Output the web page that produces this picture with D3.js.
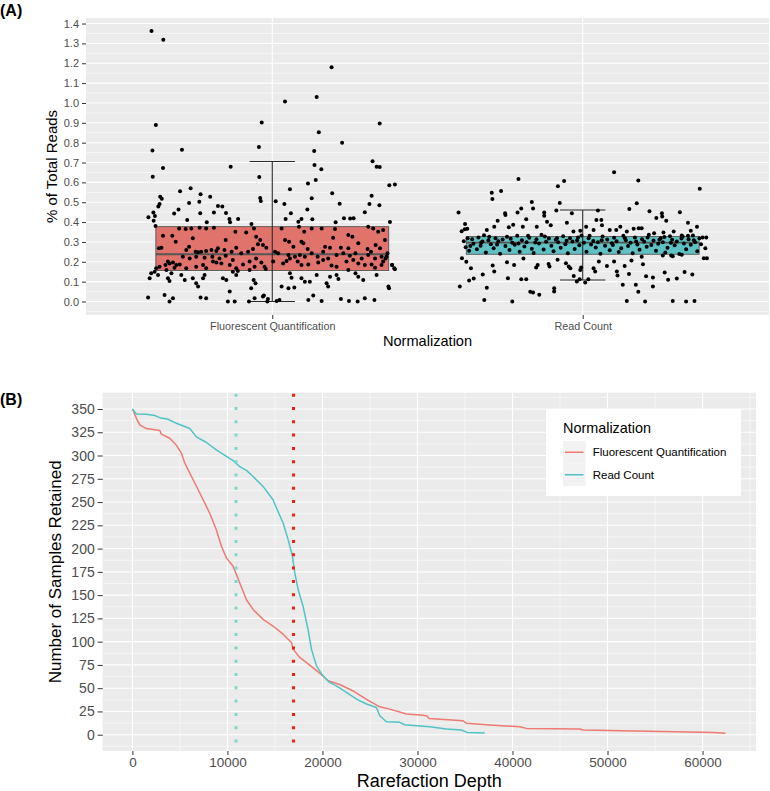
<!DOCTYPE html>
<html><head><meta charset="utf-8">
<script src="https://cdn.jsdelivr.net/npm/d3@7"></script>
<style>body{margin:0;background:#fff} text{font-family:"Liberation Sans",Arial,Helvetica,sans-serif}</style>
</head><body><svg id="c" width="770" height="791"></svg>
<script>
// ---------------- DATA ----------------
const categories = ["Fluorescent Quantification", "Read Count"];
const boxColors = ["#E0736B", "#5EC2C4"];
const boxQ1 = [0.156, 0.238];
const boxMedian = [0.238, 0.297];
const boxQ3 = [0.377, 0.327];
const whiskerLow = [0.0, 0.108];
const whiskerHigh = [0.705, 0.461];
const yTicksA = [0,0.1,0.2,0.3,0.4,0.5,0.6,0.7,0.8,0.9,1.0,1.1,1.2,1.3,1.4];

// [jitter (category units), % of total reads]
const fqPoints = [
[-0.389,1.363],[-0.351,1.318],[0.191,1.18],[0.041,1.008],[0.143,1.03],[-0.375,0.889],[-0.034,0.902],[0.346,0.897],
[0.15,0.852],[0.225,0.80],[-0.386,0.761],[-0.291,0.765],[-0.043,0.778],[0.135,0.758],[-0.385,0.629],[-0.352,0.672],
[-0.134,0.679],[-0.042,0.627],[0.136,0.687],[0.158,0.666],[0.323,0.706],[0.336,0.679],[0.346,0.677],[0.14,0.612],
[0.115,0.594],[0.057,0.565],[0.377,0.585],[0.395,0.589],[0.193,0.545],[-0.297,0.555],[-0.263,0.57],[-0.231,0.54],
[-0.2,0.528],[-0.268,0.496],[-0.235,0.503],[-0.361,0.528],[-0.356,0.518],[-0.363,0.491],[-0.367,0.478],[-0.302,0.464],
[-0.316,0.443],[-0.039,0.521],[-0.037,0.506],[0.011,0.505],[0.039,0.491],[0.113,0.464],[0.127,0.52],[0.217,0.493],
[0.231,0.419],[0.251,0.418],[0.262,0.419],[0.298,0.449],[0.32,0.533],[0.313,0.491],[0.345,0.485],[0.379,0.401],
[-0.399,0.424],[-0.383,0.448],[-0.378,0.431],[-0.382,0.407],[-0.175,0.481],[-0.161,0.478],[-0.149,0.446],[-0.138,0.416],
[-0.11,0.416],[-0.188,0.448],[-0.232,0.444],[-0.136,0.399],[0.043,0.416],[0.06,0.444],[0.084,0.402],[0.094,0.416],
[0.129,0.414],[0.204,0.399],[-0.211,0.399],[-0.274,0.411],[-0.067,0.391],[0.386,0.184],[0.395,0.163],[0.376,0.067],
[-0.376,0.38],[-0.30,0.368],[-0.279,0.365],[-0.261,0.368],[-0.234,0.372],[-0.213,0.368],[-0.188,0.372],[-0.119,0.351],
[-0.084,0.348],[-0.059,0.368],[-0.352,0.331],[-0.322,0.331],[-0.311,0.301],[-0.256,0.318],[-0.15,0.31],[-0.052,0.326],
[-0.039,0.31],[-0.03,0.284],[-0.357,0.271],[-0.365,0.268],[-0.277,0.259],[-0.268,0.276],[-0.247,0.251],[-0.239,0.248],
[-0.229,0.251],[-0.213,0.254],[-0.196,0.259],[-0.18,0.254],[-0.175,0.268],[-0.154,0.259],[-0.131,0.251],[-0.116,0.271],
[-0.1,0.243],[-0.078,0.251],[-0.062,0.264],[-0.046,0.288],[-0.019,0.271],[-0.288,0.226],[-0.266,0.217],[-0.245,0.226],
[-0.218,0.221],[-0.193,0.226],[-0.17,0.217],[-0.15,0.231],[-0.127,0.209],[-0.336,0.201],[-0.331,0.192],[-0.32,0.197],
[-0.309,0.184],[-0.344,0.184],[-0.363,0.175],[-0.298,0.187],[-0.245,0.175],[-0.223,0.184],[-0.191,0.201],[-0.18,0.196],
[-0.137,0.184],[-0.116,0.167],[-0.094,0.187],[-0.073,0.201],[-0.052,0.217],[-0.035,0.197],[-0.025,0.175],[-0.374,0.167],
[-0.341,0.159],[-0.315,0.17],[-0.277,0.167],[-0.213,0.167],[-0.164,0.192],[-0.39,0.142],[-0.379,0.15],[-0.368,0.134],
[-0.325,0.142],[-0.293,0.134],[-0.256,0.117],[-0.223,0.117],[-0.159,0.117],[-0.127,0.15],[-0.116,0.134],[-0.111,0.154],
[-0.073,0.159],[-0.057,0.175],[-0.021,0.164],[-0.395,0.117],[-0.336,0.117],[-0.331,0.103],[-0.282,0.108],[-0.245,0.092],
[-0.239,0.075],[-0.218,0.134],[-0.148,0.108],[-0.137,0.05],[-0.121,0.0],[-0.068,0.067],[-0.06,0.108],[-0.054,0.092],
[-0.4,0.02],[-0.347,0.033],[-0.331,0.0],[-0.32,0.016],[-0.231,0.02],[-0.213,0.016],[-0.143,0.0],[-0.057,0.016],
[-0.03,0.025],[-0.014,0.013],[-0.075,0.0],[-0.027,0.03],[-0.016,0.0],[0.023,0.008],
[0.03,0.368],[0.086,0.377],[0.103,0.351],[0.127,0.368],[0.159,0.368],[0.202,0.365],[0.245,0.335],[0.258,0.326],
[0.309,0.377],[0.325,0.368],[0.341,0.351],[0.357,0.36],[0.041,0.31],[0.054,0.301],[0.068,0.276],[0.094,0.301],
[0.1,0.293],[0.114,0.264],[0.17,0.276],[0.186,0.271],[0.196,0.321],[0.221,0.271],[0.245,0.268],[0.277,0.293],
[0.307,0.264],[0.318,0.251],[0.333,0.284],[0.347,0.268],[0.363,0.31],[0.009,0.251],[0.019,0.243],[0.052,0.234],
[0.057,0.217],[0.073,0.226],[0.089,0.234],[0.105,0.226],[0.127,0.243],[0.146,0.226],[0.164,0.251],[0.18,0.217],
[0.207,0.234],[0.229,0.243],[0.25,0.231],[0.268,0.243],[0.288,0.217],[0.309,0.234],[0.331,0.217],[0.352,0.226],
[0.368,0.226],[0.371,0.243],[0.365,0.217],[0.003,0.201],[0.035,0.192],[0.046,0.204],[0.082,0.201],[0.094,0.184],
[0.116,0.187],[0.148,0.197],[0.164,0.209],[0.191,0.181],[0.207,0.175],[0.239,0.201],[0.261,0.209],[0.277,0.192],
[0.298,0.184],[0.32,0.187],[0.331,0.17],[0.352,0.184],[0.357,0.201],[0.057,0.142],[0.062,0.12],[0.094,0.117],
[0.105,0.1],[0.121,0.1],[0.143,0.134],[0.175,0.092],[0.18,0.075],[0.186,0.125],[0.207,0.134],[0.213,0.113],
[0.245,0.159],[0.268,0.142],[0.277,0.125],[0.293,0.108],[0.336,0.134],[0.374,0.075],[0.386,0.184],[0.393,0.167],
[0.03,0.075],[0.052,0.067],[0.071,0.07],[0.116,0.008],[0.132,0.03],[0.159,0.003],[0.221,0.013],[0.247,0.003],
[0.275,0.0],[0.298,0.017],[0.329,0.008],[0.014,0.003]
];

const rcPoints = [
[0.101,0.651],[0.179,0.61],[0.377,0.568],[-0.207,0.617],[-0.06,0.607],[-0.08,0.58],[-0.293,0.548],[-0.263,0.557],
[-0.291,0.516],[-0.164,0.501],[-0.074,0.496],[0.174,0.495],[-0.4,0.448],[-0.25,0.444],[-0.249,0.436],[-0.21,0.448],
[-0.198,0.468],[-0.16,0.468],[-0.124,0.448],[-0.124,0.432],[-0.085,0.458],[-0.035,0.444],[0.049,0.458],[0.06,0.411],
[0.044,0.411],[0.15,0.466],[0.215,0.454],[0.237,0.421],[0.255,0.444],[0.256,0.428],[0.269,0.407],[0.313,0.449],
[0.339,0.397],[-0.379,0.391],[-0.38,0.364],[-0.39,0.354],[-0.372,0.367],[-0.309,0.36],[-0.274,0.407],[-0.285,0.377],
[-0.238,0.374],[-0.224,0.387],[-0.193,0.377],[-0.182,0.414],[-0.148,0.377],[-0.115,0.402],[-0.103,0.384],[-0.051,0.397],
[-0.03,0.352],[-0.008,0.357],[0.011,0.377],[0.035,0.36],[0.062,0.384],[0.087,0.36],[0.108,0.36],[0.121,0.377],
[0.142,0.352],[0.164,0.367],[0.18,0.369],[0.19,0.369],[0.23,0.344],[0.26,0.347],[0.293,0.352],[0.319,0.332],
[0.368,0.377],[0.348,0.357],[0.386,0.322],[0.398,0.322],[0.395,0.268],[0.39,0.218],[0.4,0.218],
[-0.389,0.218],[-0.375,0.2],[-0.36,0.168],[-0.396,0.075],[-0.366,0.106],[-0.351,0.116],[-0.317,0.008],[-0.309,0.069],
[-0.322,0.136],[-0.29,0.181],[-0.285,0.151],[-0.244,0.198],[-0.241,0.117],[-0.227,0.0],[-0.221,0.184],[-0.198,0.112],
[-0.182,0.112],[-0.191,0.216],[-0.169,0.049],[-0.16,0.045],[-0.14,0.034],[-0.15,0.171],[-0.145,0.184],[-0.11,0.189],
[-0.107,0.176],[-0.092,0.067],[-0.092,0.05],[-0.081,0.21],[-0.054,0.193],[-0.045,0.176],[-0.04,0.168],[-0.029,0.129],
[-0.019,0.101],[-0.01,0.112],[-0.008,0.159],[-0.005,0.171],[0.008,0.096],[0.018,0.112],[0.035,0.168],[0.04,0.151],
[0.052,0.201],[0.078,0.179],[0.101,0.201],[0.11,0.151],[0.112,0.131],[0.129,0.084],[0.142,0.003],[0.149,0.139],
[0.135,0.179],[0.157,0.206],[0.171,0.084],[0.179,0.049],[0.19,0.226],[0.194,0.188],[0.201,0.0],[0.204,0.127],
[0.226,0.121],[0.226,0.075],[0.264,0.146],[0.275,0.109],[0.29,0.002],[0.303,0.116],[0.328,0.148],[0.333,0.0],
[0.353,0.136],[0.36,0.002],[0.258,0.232],[0.29,0.228],[0.285,0.232],[0.319,0.235],
[-0.383,0.304],[-0.377,0.273],[-0.371,0.318],[-0.366,0.256],[-0.352,0.291],[-0.356,0.314],[-0.341,0.263],[-0.336,0.322],
[-0.327,0.297],[-0.329,0.281],[-0.318,0.334],[-0.312,0.247],[-0.304,0.309],[-0.296,0.288],[-0.287,0.268],[-0.281,0.319],
[-0.272,0.303],[-0.266,0.241],[-0.258,0.312],[-0.249,0.279],[-0.244,0.326],[-0.236,0.259],[-0.227,0.296],[-0.219,0.286],
[-0.211,0.331],[-0.203,0.251],[-0.196,0.308],[-0.188,0.277],[-0.181,0.299],[-0.172,0.321],[-0.164,0.266],[-0.158,0.244],
[-0.149,0.313],[-0.141,0.292],[-0.133,0.336],[-0.126,0.262],[-0.118,0.301],[-0.109,0.317],[-0.101,0.281],[-0.094,0.253],
[-0.087,0.311],[-0.079,0.298],[-0.071,0.271],[-0.063,0.329],[-0.056,0.289],[-0.048,0.243],[-0.041,0.319],[-0.033,0.302],
[-0.026,0.264],[-0.018,0.309],[-0.011,0.283],[-0.004,0.333],[0.004,0.296],[0.012,0.251],[0.019,0.318],[0.027,0.287],
[0.034,0.305],[0.042,0.272],[0.049,0.299],[0.057,0.241],[0.064,0.327],[0.072,0.281],[0.079,0.312],[0.087,0.258],
[0.094,0.293],[0.101,0.321],[0.109,0.303],[0.116,0.249],[0.124,0.268],[0.131,0.331],[0.139,0.308],[0.146,0.279],
[0.154,0.296],[0.161,0.243],[0.168,0.322],[0.176,0.287],[0.183,0.261],[0.191,0.314],[0.198,0.301],[0.206,0.276],
[0.213,0.336],[0.221,0.284],[0.228,0.307],[0.236,0.256],[0.243,0.291],[0.251,0.319],[0.258,0.299],[0.266,0.247],
[0.273,0.271],[0.281,0.329],[0.288,0.311],[0.296,0.283],[0.303,0.302],[0.311,0.239],[0.318,0.317],[0.326,0.292],
[0.333,0.263],[0.341,0.313],[0.348,0.286],[0.355,0.332],[0.362,0.298],[0.369,0.253],[0.376,0.319],[0.381,0.289],
[-0.362,0.279],[-0.323,0.302],[-0.301,0.326],[-0.276,0.287],[-0.232,0.316],[-0.207,0.292],[-0.176,0.331],[-0.153,0.297],
[-0.122,0.327],[-0.083,0.318],[-0.052,0.306],[-0.015,0.322],[0.022,0.331],[0.061,0.309],[0.097,0.284],[0.136,0.318],
[0.172,0.302],[0.209,0.323],[0.247,0.311],[0.284,0.296],[0.322,0.327],[0.358,0.309],[0.339,0.331],[0.263,0.325]
];

// Panel B: [rarefaction depth, samples retained]
const fqCurve = [[0,350],[250,344],[420,340],[770,333],[1470,329],[2530,327.5],[2880,327],[3050,323],[3930,318.6],
[4630,311],[5160,302.5],[5510,292],[6040,281],[6740,267],[7440,252.5],[8140,238],[8840,220],[9370,202.5],[9890,190],
[10600,181],[11300,163],[12000,145],[12700,134.6],[13750,124],[14800,116.8],[15860,108],[16740,99],[16910,92],
[17610,83],[18320,77.5],[19190,70.4],[20070,63],[20600,58],[21820,54],[23230,47],[24630,38],[26040,30],[27080,27.5],
[28840,22.2],[30590,21],[31000,20],[31220,17.5],[34800,15],[35160,12.2],[37610,10.4],[40770,8.6],[41470,6.8],
[47080,6.1],[47430,5],[61120,2.5],[62420,1.5]];
const rcCurve = [[0,350],[420,344.6],[1470,344.3],[2350,343],[2880,340.7],[3750,339],[4630,334.6],[6040,329],
[6740,320],[7790,314],[8840,306],[9890,299],[10600,294.6],[11300,288],[12000,284],[12700,277.5],[13750,266.8],
[14800,252.5],[15160,243.6],[15860,227.5],[16390,209.6],[16840,191.8],[17090,174],[17440,156],[17960,138],
[18490,113],[18840,92],[19370,74],[20070,63],[20770,56],[21470,52.5],[22530,45.4],[23580,38.2],[24630,33],
[25680,29.3],[26030,20.4],[26730,14],[28140,13.3],[28660,10.7],[31290,8.6],[33050,6.1],[34630,5],[35220,2.5],[37080,1.8]];
const cutoffDepths = [10900, 16950];
const cutoffColors = ["#7ad9cc", "#ee2010"];
const lineColors = ["#EE7A72", "#4FC3C6"];
const xTicksB = [0,10000,20000,30000,40000,50000,60000];
const yTicksB = [0,25,50,75,100,125,150,175,200,225,250,275,300,325,350];

// ---------------- DRAW ----------------
const svg = d3.select("#c");
const tickTxt = "#4d4d4d", tickLn = "#333333";
const FONT = '"Liberation Sans",Arial,sans-serif';

// ===== Panel A =====
const A = {l: 86, r: 769, t: 18, b: 315};
const xA = d3.scalePoint().domain(categories).range([A.l, A.r]).padding(0.6);
const stepA = xA.step();
const yA = d3.scaleLinear().domain([-0.068, 1.428]).range([A.b, A.t]);
const gA = svg.append("g");
gA.append("rect").attr("x", A.l).attr("y", A.t).attr("width", A.r - A.l).attr("height", A.b - A.t).attr("fill", "#EBEBEB");
const minorA = d3.range(-0.05, 1.43, 0.1);
gA.selectAll(".mnA").data(minorA).join("line").attr("x1", A.l).attr("x2", A.r)
  .attr("y1", d => yA(d)).attr("y2", d => yA(d)).attr("stroke", "#fff").attr("stroke-width", 0.55);
gA.selectAll(".mjA").data(yTicksA).join("line").attr("x1", A.l).attr("x2", A.r)
  .attr("y1", d => yA(d)).attr("y2", d => yA(d)).attr("stroke", "#fff").attr("stroke-width", 1.1);
gA.selectAll(".vA").data(categories).join("line").attr("y1", A.t).attr("y2", A.b)
  .attr("x1", d => xA(d)).attr("x2", d => xA(d)).attr("stroke", "#fff").attr("stroke-width", 1.1);

categories.forEach((c, i) => {
  const cx = xA(c);
  gA.append("rect").attr("x", cx - 0.375 * stepA).attr("width", 0.75 * stepA)
    .attr("y", yA(boxQ3[i])).attr("height", yA(boxQ1[i]) - yA(boxQ3[i]))
    .attr("fill", boxColors[i]).attr("stroke", "#555").attr("stroke-width", 0.9);
  gA.append("line").attr("x1", cx - 0.375 * stepA).attr("x2", cx + 0.375 * stepA)
    .attr("y1", yA(boxMedian[i])).attr("y2", yA(boxMedian[i])).attr("stroke", "#555").attr("stroke-width", 1.8);
  const eb = gA.append("g").attr("stroke", "#2a2a2a").attr("stroke-width", 1.1);
  eb.append("line").attr("x1", cx).attr("x2", cx).attr("y1", yA(whiskerLow[i])).attr("y2", yA(whiskerHigh[i]));
  [whiskerLow[i], whiskerHigh[i]].forEach(v => eb.append("line")
    .attr("x1", cx - 0.073 * stepA).attr("x2", cx + 0.073 * stepA).attr("y1", yA(v)).attr("y2", yA(v)));
});
[fqPoints, rcPoints].forEach((pts, i) => {
  const cx = xA(categories[i]);
  gA.append("g").selectAll("circle").data(pts).join("circle")
    .attr("cx", d => cx + d[0] * stepA).attr("cy", d => yA(d[1])).attr("r", 2).attr("fill", "#000");
});

const axYA = gA.append("g").attr("transform", `translate(${A.l},0)`)
  .call(d3.axisLeft(yA).tickValues(yTicksA).tickFormat(d3.format(".1f")).tickSize(4).tickPadding(3));
const axXA = gA.append("g").attr("transform", `translate(0,${A.b})`)
  .call(d3.axisBottom(xA).tickSize(4).tickPadding(3));
[axYA, axXA].forEach(ax => {
  ax.select(".domain").remove();
  ax.selectAll(".tick line").attr("stroke", tickLn);
  ax.selectAll(".tick text").attr("fill", tickTxt).style("font-size", "11px").style("font-family", FONT);
});
axXA.selectAll(".tick text").style("font-size", "10.8px");
gA.append("text").attr("x", (A.l + A.r) / 2).attr("y", 346).attr("text-anchor", "middle")
  .style("font-size", "14.6px").text("Normalization");
gA.append("text").attr("transform", `translate(56.5,${(A.t + A.b) / 2}) rotate(-90)`).attr("text-anchor", "middle")
  .style("font-size", "15px").text("% of Total Reads");
svg.append("text").attr("x", 0).attr("y", 16).style("font-size", "16px").style("font-weight", "bold").text("(A)");

// ===== Panel B =====
const B = {l: 102.7, r: 756, t: 392.7, b: 751};
const xB = d3.scaleLinear().domain([-3125, 65625]).range([B.l, B.r]);
const yB = d3.scaleLinear().domain([-17.5, 367.5]).range([B.b, B.t]);
const gB = svg.append("g");
gB.append("rect").attr("x", B.l).attr("y", B.t).attr("width", B.r - B.l).attr("height", B.b - B.t).attr("fill", "#EBEBEB");
const minorYB = d3.range(-12.5, 367, 25), minorXB = d3.range(5000, 65626, 10000);
gB.selectAll(".mnyB").data(minorYB).join("line").attr("x1", B.l).attr("x2", B.r)
  .attr("y1", d => yB(d)).attr("y2", d => yB(d)).attr("stroke", "#fff").attr("stroke-width", 0.55);
gB.selectAll(".mnxB").data(minorXB).join("line").attr("y1", B.t).attr("y2", B.b)
  .attr("x1", d => xB(d)).attr("x2", d => xB(d)).attr("stroke", "#fff").attr("stroke-width", 0.55);
gB.selectAll(".mjyB").data(yTicksB).join("line").attr("x1", B.l).attr("x2", B.r)
  .attr("y1", d => yB(d)).attr("y2", d => yB(d)).attr("stroke", "#fff").attr("stroke-width", 1.1);
gB.selectAll(".mjxB").data(xTicksB).join("line").attr("y1", B.t).attr("y2", B.b)
  .attr("x1", d => xB(d)).attr("x2", d => xB(d)).attr("stroke", "#fff").attr("stroke-width", 1.1);

const lineGen = d3.line().x(d => xB(d[0])).y(d => yB(d[1]));
[fqCurve, rcCurve].forEach((cv, i) => {
  gB.append("path").attr("d", lineGen(cv)).attr("fill", "none").attr("stroke", lineColors[i])
    .attr("stroke-width", 1.5).attr("stroke-linejoin", "round");
});
cutoffDepths.forEach((d, i) => {
  gB.append("line").attr("x1", xB(d)).attr("x2", xB(d)).attr("y1", B.t + 1).attr("y2", B.b)
    .attr("stroke", cutoffColors[i]).attr("stroke-width", 3).attr("stroke-dasharray", "3,10.3");
});

const axYB = gB.append("g").attr("transform", `translate(${B.l},0)`)
  .call(d3.axisLeft(yB).tickValues(yTicksB).tickSize(5).tickPadding(3));
const axXB = gB.append("g").attr("transform", `translate(0,${B.b})`)
  .call(d3.axisBottom(xB).tickValues(xTicksB).tickFormat(d3.format("d")).tickSize(4).tickPadding(2));
[axYB, axXB].forEach(ax => {
  ax.select(".domain").remove();
  ax.selectAll(".tick line").attr("stroke", tickLn);
  ax.selectAll(".tick text").attr("fill", tickTxt).style("font-size", "14px").style("font-family", FONT);
});
axXB.selectAll(".tick text").style("font-size", "13.5px");
gB.append("text").attr("x", (B.l + B.r) / 2).attr("y", 787).attr("text-anchor", "middle")
  .style("font-size", "18px").text("Rarefaction Depth");
gB.append("text").attr("transform", `translate(61,${(B.t + B.b) / 2}) rotate(-90)`).attr("text-anchor", "middle")
  .style("font-size", "17px").text("Number of Samples Retained");
svg.append("text").attr("x", 0).attr("y", 405).style("font-size", "16px").style("font-weight", "bold").text("(B)");

// Legend
const lg = gB.append("g");
lg.append("rect").attr("x", 546).attr("y", 409).attr("width", 195).attr("height", 87).attr("fill", "#fff");
lg.append("text").attr("x", 563).attr("y", 433).style("font-size", "14.4px").text("Normalization");
categories.forEach((c, i) => {
  const ky = 441 + i * 22.5;
  lg.append("rect").attr("x", 563).attr("y", ky).attr("width", 22.5).attr("height", 22.5).attr("fill", "#F2F2F2");
  lg.append("line").attr("x1", 565).attr("x2", 583.5).attr("y1", ky + 11.25).attr("y2", ky + 11.25)
    .attr("stroke", lineColors[i]).attr("stroke-width", 1.5);
  lg.append("text").attr("x", 592.7).attr("y", ky + 15.3).style("font-size", "11.5px").text(c);
});
</script></body></html>
